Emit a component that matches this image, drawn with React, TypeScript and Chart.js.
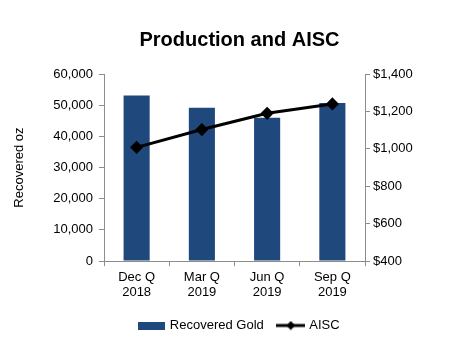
import React, { useEffect, useRef } from "react";
import { Chart, registerables } from "chart.js";

Chart.register(...registerables);

const categories: string[][] = [["Dec Q", "2018"], ["Mar Q", "2019"], ["Jun Q", "2019"], ["Sep Q", "2019"]];
const recoveredGold: number[] = [53100, 49200, 46000, 50700];
const aisc: number[] = [1008, 1103, 1190, 1240];
const seriesNames: string[] = ["Recovered Gold", "AISC"];
const chartTitle = "Production and AISC";
const leftAxisTitle = "Recovered oz";

const BAR_COLOR = "#1F497D";
const FONT = "'Liberation Sans', Arial, sans-serif";
const AXIS_COLOR = "#8C8C8C";

function makeBarImg(): HTMLCanvasElement {
  const c = document.createElement("canvas");
  c.width = 27;
  c.height = 8;
  const ctx = c.getContext("2d")!;
  ctx.fillStyle = BAR_COLOR;
  ctx.fillRect(0, 0, 27, 8);
  return c;
}

function makeLineImg(): HTMLCanvasElement {
  const c = document.createElement("canvas");
  c.width = 29;
  c.height = 10;
  const ctx = c.getContext("2d")!;
  ctx.strokeStyle = "#000";
  ctx.lineWidth = 3;
  ctx.beginPath();
  ctx.moveTo(0, 5);
  ctx.lineTo(29, 5);
  ctx.stroke();
  ctx.fillStyle = "#000";
  ctx.beginPath();
  ctx.moveTo(14.5, 0.5);
  ctx.lineTo(19, 5);
  ctx.lineTo(14.5, 9.5);
  ctx.lineTo(10, 5);
  ctx.closePath();
  ctx.fill();
  return c;
}

export default function App() {
  const ref = useRef<HTMLCanvasElement | null>(null);

  useEffect(() => {
    if (!ref.current) return;
    const barImg = makeBarImg();
    const lineImg = makeLineImg();
    const chart = new Chart(ref.current, {
      type: "bar",
      data: {
        labels: categories,
        datasets: [
          {
            type: "line",
            label: seriesNames[1],
            data: aisc,
            yAxisID: "y1",
            borderColor: "#000",
            backgroundColor: "#000",
            borderWidth: 3,
            pointStyle: "rectRot",
            pointRadius: 4.5,
            pointBackgroundColor: "#000",
            pointBorderColor: "#000",
            tension: 0,
            order: 0,
          },
          {
            type: "bar",
            label: seriesNames[0],
            data: recoveredGold,
            yAxisID: "y",
            backgroundColor: BAR_COLOR,
            barPercentage: 0.4,
            categoryPercentage: 1,
            order: 1,
          },
        ],
      },
      options: {
        animation: false,
        responsive: true,
        maintainAspectRatio: false,
        layout: { padding: { left: 22, right: 0, top: 0, bottom: 9 } },
        plugins: {
          title: {
            display: true,
            text: chartTitle,
            color: "#000",
            font: { family: FONT, size: 20, weight: "bold" },
            padding: { top: 20, bottom: 22 },
          },
          legend: {
            position: "bottom",
            labels: {
              usePointStyle: true,
              pointStyleWidth: 24,
              color: "#000",
              font: { family: FONT, size: 13 },
              padding: 15,
              generateLabels: () => [
                {
                  text: seriesNames[0],
                  pointStyle: barImg,
                  datasetIndex: 1,
                  fillStyle: BAR_COLOR,
                  strokeStyle: BAR_COLOR,
                  lineWidth: 0,
                  hidden: false,
                  fontColor: "#000",
                },
                {
                  text: seriesNames[1],
                  pointStyle: lineImg,
                  datasetIndex: 0,
                  fillStyle: "#000",
                  strokeStyle: "#000",
                  lineWidth: 0,
                  hidden: false,
                  fontColor: "#000",
                },
              ],
            },
          },
          tooltip: { enabled: false },
        },
        scales: {
          x: {
            grid: {
              drawOnChartArea: false,
              color: AXIS_COLOR,
              tickLength: 5,
              offset: true,
            },
            border: { color: AXIS_COLOR },
            ticks: {
              color: "#000",
              font: { family: FONT, size: 13, lineHeight: 1.15 },
              padding: 4,
              maxRotation: 0,
            },
          },
          y: {
            position: "left",
            min: 0,
            max: 60000,
            grid: { drawOnChartArea: false, color: AXIS_COLOR, tickLength: 5 },
            border: { color: AXIS_COLOR },
            ticks: {
              stepSize: 10000,
              color: "#000",
              font: { family: FONT, size: 13 },
              padding: 6,
              callback: (v: any) => Number(v).toLocaleString("en-US"),
            },
            title: {
              display: true,
              text: leftAxisTitle,
              color: "#000",
              font: { family: FONT, size: 13 },
              padding: { top: -18, bottom: 4 },
            },
            afterFit: (s: any) => {
              s.width = 74;
            },
          },
          y1: {
            position: "right",
            min: 400,
            max: 1400,
            grid: { drawOnChartArea: false, color: AXIS_COLOR, tickLength: 5 },
            border: { color: AXIS_COLOR },
            ticks: {
              stepSize: 200,
              color: "#000",
              font: { family: FONT, size: 13 },
              padding: 3,
              callback: (v: any) => "$" + Number(v).toLocaleString("en-US"),
            },
            afterFit: (s: any) => {
              s.width = 84;
            },
          },
        },
      },
    });
    return () => chart.destroy();
  }, []);

  return (
    <div style={{ width: 441, height: 343, position: "relative" }}>
      <canvas ref={ref} />
    </div>
  );
}
